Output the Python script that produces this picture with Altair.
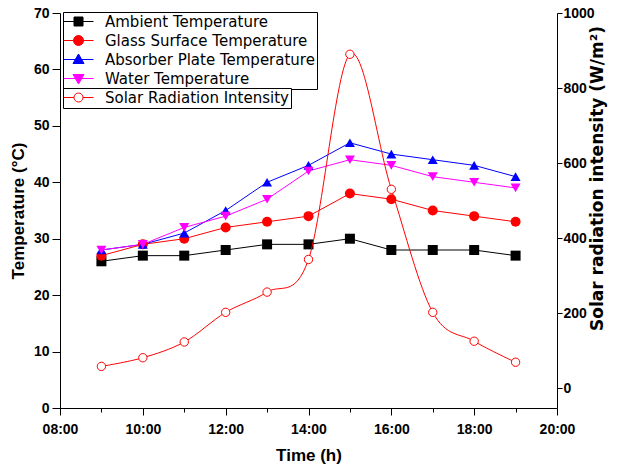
import altair as alt
import pandas as pd

# ---------------- data ----------------
hours = [9, 10, 11, 12, 13, 14, 15, 16, 17, 18, 19]
ambient = [26, 27, 27, 28, 29, 29, 30, 28, 28, 28, 27]
glass = [27, 29, 30, 32, 33, 34, 38, 37, 35, 34, 33]
absorber = [28, 29, 31, 35, 40, 43, 47, 45, 44, 43, 41]
water = [28, 29, 32, 34, 37, 42, 44, 43, 41, 40, 39]
solar = [58, 81, 123, 202, 256, 343, 890, 530, 202, 125, 69]

series_names = ["Ambient Temperature", "Glass Surface Temperature",
                "Absorber Plate Temperature", "Water Temperature"]
series_colors = ["#000000", "#ff0000", "#0000ff", "#ff00ff"]
marker_shapes = ["square", "circle", "triangle-up", "triangle-down"]
legend_paths = [
    "M-3,0H3M-0.9,-0.9H0.9V0.9H-0.9Z",
    "M-3,0H3M1,0A1,1,0,1,1,-1,0A1,1,0,1,1,1,0Z",
    "M-3,0H3M0,-1.1L1.1,0.8L-1.1,0.8Z",
    "M-3,0H3M0,1.1L1.1,-0.8L-1.1,-0.8Z",
]
solar_name = "Solar Radiation Intensity"
solar_color = "#ff0000"
solar_path = "M-3,0H-0.9M0.9,0H3M0.9,0A0.9,0.9,0,1,1,-0.9,0A0.9,0.9,0,1,1,0.9,0Z"

rows = []
for name, vals in zip(series_names, [ambient, glass, absorber, water]):
    for h, v in zip(hours, vals):
        rows.append({"hour": h, "temp": v, "series": name})
temp_df = pd.DataFrame(rows)
solar_df = pd.DataFrame({"hour": hours, "solar": solar, "series": [solar_name] * len(hours)})

# ---------------- scales / axes ----------------
x_enc = alt.X(
    "hour:Q",
    scale=alt.Scale(domain=[8, 20], nice=False, zero=False),
    axis=alt.Axis(
        values=list(range(8, 21)),
        labelExpr="datum.value % 2 === 0 ? ((datum.value < 10 ? '0' : '') + datum.value + ':00') : ''",
        tickSize={"condition": {"test": "datum.value % 2 === 0", "value": 7}, "value": 4},
        labelPadding=7,
        title="Time (h)",
        titlePadding=11,
    ),
)

y_temp = alt.Y(
    "temp:Q",
    scale=alt.Scale(domain=[0, 70], nice=False, zero=False),
    axis=alt.Axis(
        orient="left",
        values=list(range(0, 71, 5)),
        labelExpr="datum.value % 10 === 0 ? datum.label : ''",
        tickSize={"condition": {"test": "datum.value % 10 === 0", "value": 8}, "value": 4},
        labelPadding=3,
        title="Temperature (°C)",
        titlePadding=6,
    ),
)

y_solar = alt.Y(
    "solar:Q",
    scale=alt.Scale(domain=[-53, 1000], nice=False, zero=False),
    axis=alt.Axis(
        orient="right",
        values=list(range(0, 1001, 50)),
        format="d",
        labelExpr="datum.value % 100 === 0 ? datum.label : ''",
        tickSize={"condition": {"test": "datum.value % 100 === 0", "value": 5}, "value": 3},
        labelPadding=1,
        title="Solar radiation intensity (W/m²)",
        titleFont="DejaVu Sans",
        titleFontSize=17,
        titleAngle=270,
        titlePadding=12,
        titleY=165,
    ),
)

legend_common = dict(
    title=None, orient="none", legendX=3, strokeColor="black", fillColor="white",
    padding=2, labelFont="DejaVu Sans", labelFontSize=15, labelColor="black",
    symbolOffset=6, labelOffset=19, rowPadding=3, symbolSize=100,
    symbolStrokeWidth=1, labelLimit=400, symbolOpacity=1,
)
temp_legend = alt.Legend(legendY=-1, **legend_common)
solar_legend = alt.Legend(legendY=75, symbolFillColor="white", **legend_common)

# ---------------- temperature layers ----------------
base_t = alt.Chart(temp_df)
t_lines = base_t.mark_line(strokeWidth=1).encode(
    x=x_enc, y=y_temp,
    stroke=alt.Stroke("series:N", scale=alt.Scale(domain=series_names, range=series_colors), legend=None),
    order=alt.Order("hour:Q"),
)
t_points = base_t.mark_point(filled=True, size=100, opacity=1).encode(
    x="hour:Q", y="temp:Q",
    fill=alt.Fill("series:N", scale=alt.Scale(domain=series_names, range=series_colors), legend=None),
    shape=alt.Shape("series:N", scale=alt.Scale(domain=series_names, range=marker_shapes), legend=None),
)
t_legend = base_t.mark_point(filled=True, size=100, opacity=0, strokeWidth=1).encode(
    x="hour:Q", y="temp:Q",
    fill=alt.Fill("series:N", scale=alt.Scale(domain=series_names, range=series_colors), legend=temp_legend),
    stroke=alt.Stroke("series:N", scale=alt.Scale(domain=series_names, range=series_colors), legend=temp_legend),
    shape=alt.Shape("series:N", scale=alt.Scale(domain=series_names, range=legend_paths), legend=temp_legend),
)
temp_layer = alt.layer(t_lines, t_points, t_legend).resolve_scale(
    fill="independent", stroke="independent", shape="independent"
)

# ---------------- solar layers ----------------
base_s = alt.Chart(solar_df)
s_line = base_s.mark_line(strokeWidth=1, interpolate="cardinal", color=solar_color).encode(
    x="hour:Q", y=y_solar,
)
s_points = base_s.mark_point(filled=True, size=70, opacity=1, fill="white",
                             stroke=solar_color, strokeWidth=1, shape="circle").encode(
    x="hour:Q", y="solar:Q",
)
s_legend = base_s.mark_point(filled=True, size=100, opacity=0, fill="white", strokeWidth=1).encode(
    x="hour:Q", y="solar:Q",
    stroke=alt.Stroke("series:N", scale=alt.Scale(domain=[solar_name], range=[solar_color]), legend=solar_legend),
    shape=alt.Shape("series:N", scale=alt.Scale(domain=[solar_name], range=[solar_path]), legend=solar_legend),
)
solar_layer = alt.layer(s_line, s_points, s_legend).resolve_scale(
    stroke="independent", shape="independent"
)

chart = (
    alt.layer(temp_layer, solar_layer)
    .resolve_scale(y="independent", fill="independent", stroke="independent", shape="independent")
    .properties(
        width=497, height=395,
        autosize=alt.AutoSizeParams(type="none"),
        padding={"left": 52, "top": 5, "right": 53, "bottom": 57},
    )
    .configure_view(stroke=None)
    .configure_axis(
        grid=False, domainColor="black", tickColor="black", labelColor="black",
        titleColor="black", labelFont="Liberation Sans", labelFontWeight="bold",
        labelFontSize=14, titleFont="Liberation Sans", titleFontWeight="bold",
        titleFontSize=17, labelFlush=False, labelOverlap=False, domainWidth=1, tickWidth=1,
    )
)

chart.save("out.html", embed_options={"renderer": "svg", "actions": False})
